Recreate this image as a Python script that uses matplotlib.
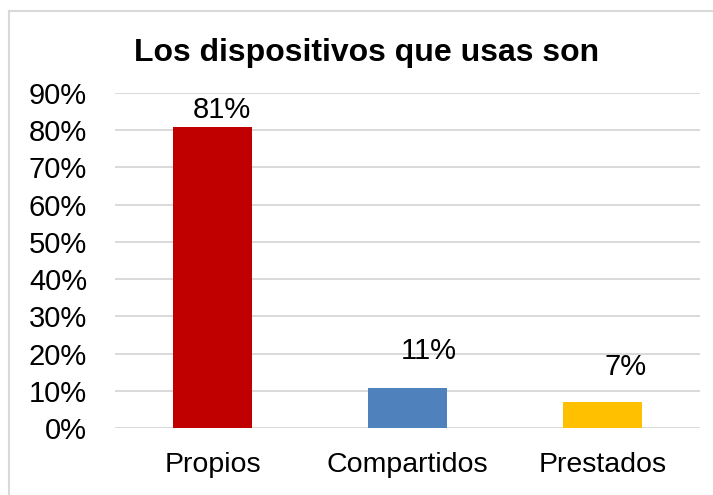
import matplotlib
matplotlib.use("Agg")
import matplotlib.pyplot as plt
from matplotlib.lines import Line2D

categories = ["Propios", "Compartidos", "Prestados"]
values = [0.81, 0.107, 0.07]
colors = ["#C00000", "#4F81BD", "#FFC000"]
yticks = [0.0, 0.1, 0.2, 0.3, 0.4, 0.5, 0.6, 0.7, 0.8, 0.9]
title = "Los dispositivos que usas son"

plt.rcParams['font.family'] = ['Liberation Sans', 'DejaVu Sans']

fig = plt.figure(figsize=(7.13, 4.95), dpi=100)
ax = fig.add_axes([115/713, (495-428)/495, 585/713, 335/495])

x = list(range(len(categories)))
ax.bar(x, values, width=0.405, color=colors, zorder=3)

ax.set_xlim(-0.5, len(categories) - 0.5)
ax.set_ylim(0, 0.9)
ax.set_yticks(yticks)
ax.set_yticklabels([f"{int(round(t*100))}%" for t in yticks], fontsize=21)
ax.set_xticks(x)
ax.set_xticklabels(categories, fontsize=20.5)
ax.tick_params(axis='both', length=0)
ax.tick_params(axis='y', pad=20)
ax.tick_params(axis='x', pad=17)
ax.yaxis.grid(True, color="#d9d9d9", linewidth=1.4, zorder=0)
for s in ax.spines.values():
    s.set_visible(False)

label_offsets = [(6.8, 6.3), (15, 21), (16.5, 19.2)]
for xi, v, (dx, dy) in zip(x, values, label_offsets):
    ax.annotate(f"{round(v*100):.0f}%", (xi, v), xytext=(dx, dy),
                textcoords="offset points", ha="center", va="baseline", fontsize=21)

fig.text(366.5/713, 1 - 61/495, title, ha="center", va="baseline",
         fontsize=23, fontweight="bold")

# chart frame (top and left edges visible)
fig.add_artist(Line2D([8.5/713, 8.5/713], [0, 1 - 11/495], transform=fig.transFigure,
                      color="#d9d9d9", linewidth=1.5))
fig.add_artist(Line2D([8.5/713, 1], [1 - 11/495, 1 - 11/495], transform=fig.transFigure,
                      color="#d9d9d9", linewidth=1.5))

fig.savefig("out.png", dpi=100, facecolor="white")
